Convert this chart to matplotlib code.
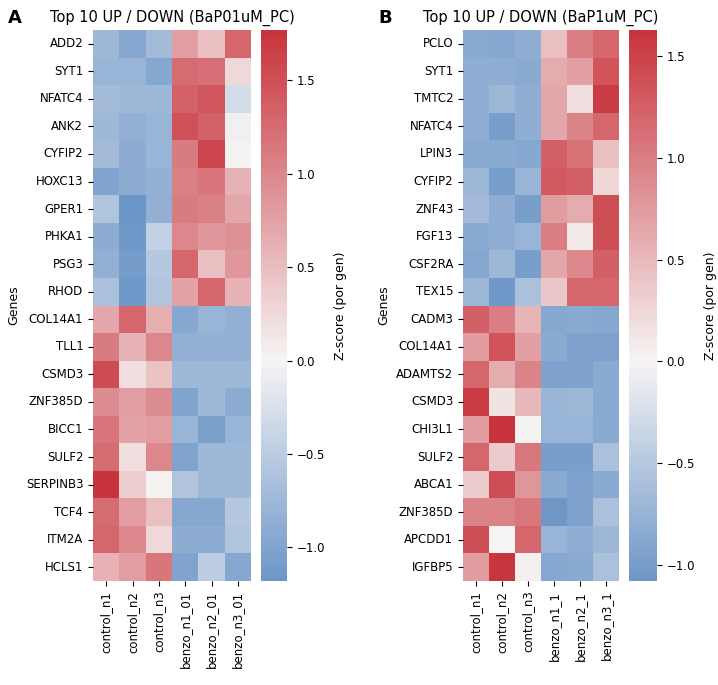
import numpy as np
import pandas as pd
import matplotlib
matplotlib.use("Agg")
import matplotlib.pyplot as plt
from matplotlib.colors import LinearSegmentedColormap
import seaborn as sns

samples_a = ["control_n1", "control_n2", "control_n3", "benzo_n1_01", "benzo_n2_01", "benzo_n3_01"]
samples_b = ["control_n1", "control_n2", "control_n3", "benzo_n1_1", "benzo_n2_1", "benzo_n3_1"]

genes_a = ["ADD2", "SYT1", "NFATC4", "ANK2", "CYFIP2", "HOXC13", "GPER1", "PHKA1", "PSG3", "RHOD",
           "COL14A1", "TLL1", "CSMD3", "ZNF385D", "BICC1", "SULF2", "SERPINB3", "TCF4", "ITM2A", "HCLS1"]
z_a = [
    [-0.75, -0.95, -0.70, 0.80, 0.50, 1.30],
    [-0.80, -0.80, -0.95, 1.25, 1.20, 0.25],
    [-0.70, -0.75, -0.75, 1.35, 1.45, -0.30],
    [-0.75, -0.85, -0.80, 1.50, 1.35, -0.05],
    [-0.70, -0.90, -0.80, 1.10, 1.60, 0.02],
    [-1.00, -0.90, -0.85, 1.05, 1.15, 0.60],
    [-0.60, -1.18, -0.85, 1.10, 1.05, 0.70],
    [-0.90, -1.15, -0.45, 1.00, 0.85, 0.90],
    [-0.85, -1.10, -0.55, 1.30, 0.50, 0.85],
    [-0.65, -1.15, -0.60, 0.75, 1.30, 0.60],
    [0.70, 1.30, 0.65, -0.95, -0.80, -0.85],
    [1.10, 0.60, 1.00, -0.85, -0.85, -0.85],
    [1.55, 0.20, 0.45, -0.75, -0.75, -0.75],
    [0.95, 0.80, 0.95, -1.00, -0.75, -0.90],
    [1.15, 0.75, 0.80, -0.80, -1.05, -0.80],
    [1.25, 0.20, 1.00, -1.00, -0.75, -0.75],
    [1.77, 0.35, 0.02, -0.60, -0.75, -0.75],
    [1.25, 0.80, 0.50, -0.95, -0.95, -0.55],
    [1.30, 1.00, 0.25, -0.90, -0.90, -0.60],
    [0.60, 0.80, 1.15, -1.00, -0.50, -0.95],
]

genes_b = ["PCLO", "SYT1", "TMTC2", "NFATC4", "LPIN3", "CYFIP2", "ZNF43", "FGF13", "CSF2RA", "TEX15",
           "CADM3", "COL14A1", "ADAMTS2", "CSMD3", "CHI3L1", "SULF2", "ABCA1", "ZNF385D", "APCDD1", "IGFBP5"]
z_b = [
    [-0.85, -0.90, -0.80, 0.45, 1.00, 1.20],
    [-0.80, -0.80, -0.85, 0.60, 0.70, 1.35],
    [-0.80, -0.70, -0.80, 0.65, 0.20, 1.55],
    [-0.80, -1.00, -0.80, 0.65, 0.95, 1.20],
    [-0.85, -0.85, -0.90, 1.25, 1.10, 0.45],
    [-0.70, -1.00, -0.75, 1.30, 1.25, 0.25],
    [-0.65, -0.80, -1.00, 0.75, 0.60, 1.40],
    [-0.85, -0.80, -0.75, 1.00, 0.10, 1.40],
    [-0.90, -0.70, -1.00, 0.65, 0.90, 1.25],
    [-0.70, -1.05, -0.60, 0.40, 1.20, 1.20],
    [1.25, 1.00, 0.55, -0.90, -0.85, -0.90],
    [0.75, 1.35, 0.70, -0.85, -0.95, -0.95],
    [1.20, 0.60, 0.95, -0.95, -0.95, -0.85],
    [1.55, 0.15, 0.50, -0.75, -0.70, -0.85],
    [0.75, 1.63, 0.02, -0.75, -0.75, -0.85],
    [1.20, 0.35, 1.05, -1.00, -1.00, -0.60],
    [0.35, 1.40, 0.80, -0.85, -0.95, -0.85],
    [0.95, 0.95, 1.05, -1.08, -0.95, -0.60],
    [1.40, 0.00, 1.20, -0.75, -0.80, -0.70],
    [0.75, 1.60, 0.05, -0.90, -0.85, -0.60],
]

df_a = pd.DataFrame(z_a, index=genes_a, columns=samples_a)
df_b = pd.DataFrame(z_b, index=genes_b, columns=samples_b)

cmap = LinearSegmentedColormap.from_list("bwr_soft", ["#2968b2", "#f6f4f4", "#c8343c"], N=256)

W, H = 718, 685
fig = plt.figure(figsize=(W / 100, H / 100), dpi=100)

def rect(x0, y0, x1, y1):
    return [x0 / W, 1 - y1 / H, (x1 - x0) / W, (y1 - y0) / H]

panels = [
    (df_a, "Top 10 UP / DOWN (BaP01uM_PC)", "A", rect(93, 30, 251, 581), rect(261, 30, 287, 581), 8),
    (df_b, "Top 10 UP / DOWN (BaP1uM_PC)", "B", rect(463, 30, 619, 581), rect(629, 30, 657, 581), 378),
]

for df, title, letter, r_ax, r_cb, lx in panels:
    ax = fig.add_axes(r_ax)
    cax = fig.add_axes(r_cb)
    sns.heatmap(df, ax=ax, cbar_ax=cax, cmap=cmap, center=0,
                cbar_kws={"label": "Z-score (por gen)"})
    ax.set_title(title, fontsize=10.5, pad=6)
    ax.set_ylabel("Genes", fontsize=9)
    ax.set_xlabel("")
    ax.set_yticks(np.arange(len(df.index)) + 0.5)
    ax.set_yticklabels(df.index, rotation=0, fontsize=8.5)
    ax.set_xticks(np.arange(len(df.columns)) + 0.5)
    ax.set_xticklabels(df.columns, rotation=90, fontsize=8.5)
    cax.tick_params(labelsize=8.5)
    cax.yaxis.label.set_size(9)
    cax.yaxis.labelpad = 6
    fig.text(lx / W, 1 - 18 / H, letter, fontsize=13, fontweight="bold", va="center", ha="left")

fig.savefig("out.png", dpi=100)
